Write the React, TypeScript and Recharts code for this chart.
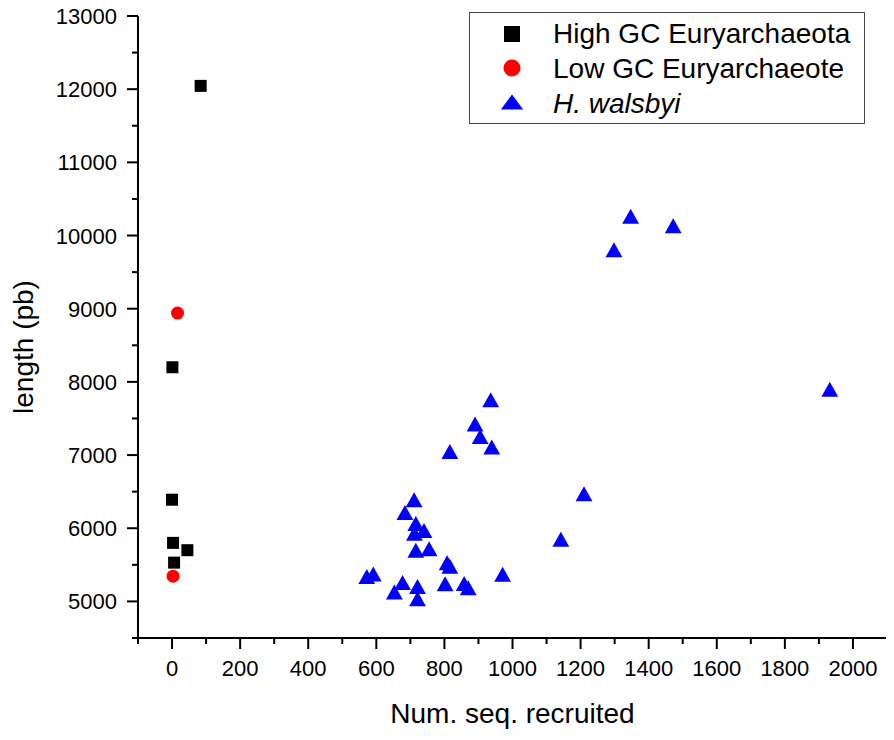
import { Legend, Scatter, ScatterChart, XAxis, YAxis } from "recharts";

const FONT = '"Liberation Sans", Arial, sans-serif';

const highGcRecruited = [84, 1, 0, 3, 45, 6];
const highGcLength = [12045, 8200, 6390, 5800, 5700, 5530];

const lowGcRecruited = [16, 3];
const lowGcLength = [8940, 5345];

const walsbyiRecruited = [
  1347, 1472, 1298, 1932, 936, 890, 905, 939, 816, 1210, 1142, 711, 684, 716,
  740, 712, 716, 755, 808, 816, 971, 572, 591, 677, 653, 721, 721, 802, 858, 870,
];
const walsbyiLength = [
  10265, 10135, 9805, 7900, 7755, 7425, 7255, 7110, 7050, 6470, 5850, 6390,
  6215, 6065, 5970, 5930, 5700, 5720, 5530, 5480, 5370, 5340, 5375, 5260, 5130,
  5205, 5035, 5240, 5245, 5185,
];

const xTicks = [
  -100, 0, 100, 200, 300, 400, 500, 600, 700, 800, 900, 1000, 1100, 1200, 1300,
  1400, 1500, 1600, 1700, 1800, 1900, 2000, 2100,
];
const xLabelled = [0, 200, 400, 600, 800, 1000, 1200, 1400, 1600, 1800, 2000];

const yTicks = [
  4500, 5000, 5500, 6000, 6500, 7000, 7500, 8000, 8500, 9000, 9500, 10000,
  10500, 11000, 11500, 12000, 12500, 13000,
];
const yLabelled = [5000, 6000, 7000, 8000, 9000, 10000, 11000, 12000, 13000];

const series = [
  { name: "High GC Euryarchaeota", color: "#000000", italic: false },
  { name: "Low GC Euryarchaeote", color: "#ff0000", italic: false },
  { name: "H. walsbyi", color: "#0000ff", italic: true },
];

const toPoints = (xs: number[], ys: number[]) =>
  xs.map((x, i) => ({ x, y: ys[i] }));

const highGc = toPoints(highGcRecruited, highGcLength);
const lowGc = toPoints(lowGcRecruited, lowGcLength);
const walsbyi = toPoints(walsbyiRecruited, walsbyiLength);

// kind: 0 square, 1 circle, 2 triangle
function marker(kind: number, cx: number, cy: number, s: number, color: string, th?: number) {
  if (kind === 0)
    return <rect x={cx - s / 2} y={cy - s / 2} width={s} height={s} fill={color} />;
  if (kind === 1) return <circle cx={cx} cy={cy} r={s / 2 + 0.5} fill={color} />;
  const w = s * 1.4;
  const h = th ?? s * 1.25;
  return (
    <polygon
      points={`${cx},${cy - h / 2} ${cx - w / 2},${cy + h / 2} ${cx + w / 2},${cy + h / 2}`}
      fill={color}
    />
  );
}

function XTick(props: any) {
  const { x, y, payload } = props;
  const major = xLabelled.includes(payload.value);
  return (
    <g>
      <line x1={x} x2={x} y1={y} y2={y + (major ? 11 : 6)} stroke="#000" strokeWidth={2} />
      {major && (
        <text x={x} y={y + 38} textAnchor="middle" fontSize={22} fontFamily={FONT} fill="#000">
          {payload.value}
        </text>
      )}
    </g>
  );
}

function YTick(props: any) {
  const { x, y, payload } = props;
  const major = yLabelled.includes(payload.value);
  return (
    <g>
      <line x1={x} x2={x - (major ? 11 : 6)} y1={y} y2={y} stroke="#000" strokeWidth={2} />
      {major && (
        <text x={x - 21} y={y + 8} textAnchor="end" fontSize={22} fontFamily={FONT} fill="#000">
          {payload.value}
        </text>
      )}
    </g>
  );
}

function LegendBox() {
  return (
    <svg width={396} height={112}>
      <rect x={0.5} y={0.5} width={395} height={111} fill="#fff" stroke="#444" />
      {series.map((s, i) => (
        <g key={s.name}>
          {marker(i, 43, 22 + i * 34, 16, s.color, 15)}
          <text
            x={84}
            y={31 + i * 35}
            fontSize={28}
            fontFamily={FONT}
            fontStyle={s.italic ? "italic" : "normal"}
            fill="#000"
          >
            {s.name}
          </text>
        </g>
      ))}
    </svg>
  );
}

export default function App() {
  return (
    <div style={{ marginTop: -8 }}>
      <ScatterChart
        width={886}
        height={732}
        margin={{ top: 16, right: 7, bottom: 0, left: 0 }}
        style={{ fontFamily: FONT }}
      >
        <XAxis
          type="number"
          dataKey="x"
          domain={[-100, 2100]}
          ticks={xTicks}
          interval={0}
          height={94}
          tickSize={0}
          tickMargin={0}
          tickLine={false}
          tick={<XTick />}
          axisLine={{ stroke: "#000", strokeWidth: 2 }}
          allowDataOverflow
          label={{
            value: "Num. seq. recruited",
            position: "insideBottom",
            offset: 9,
            fontSize: 28,
            fill: "#000",
            fontFamily: FONT,
          }}
        />
        <YAxis
          type="number"
          dataKey="y"
          domain={[4500, 13000]}
          ticks={yTicks}
          interval={0}
          width={130}
          tickSize={0}
          tickMargin={0}
          tickLine={false}
          tick={<YTick />}
          axisLine={{ stroke: "#000", strokeWidth: 2 }}
          allowDataOverflow
          label={{
            content: (p: any) => {
              const vb = p.viewBox || { x: 0, y: 16, width: 130, height: 622 };
              const cx = vb.x + 25;
              const cy = vb.y + vb.height / 2 + 20;
              return (
                <text
                  x={cx}
                  y={cy}
                  transform={`rotate(-90 ${cx} ${cy})`}
                  textAnchor="middle"
                  fontSize={28}
                  fontFamily={FONT}
                  fill="#000"
                >
                  length (pb)
                </text>
              );
            },
          }}
        />
        <Legend
          layout="vertical"
          align="center"
          verticalAlign="middle"
          wrapperStyle={{ top: 12, left: 461, width: 396, height: 112 }}
          content={() => <LegendBox />}
        />
        <Scatter
          name={series[0].name}
          data={highGc}
          fill={series[0].color}
          isAnimationActive={false}
          shape={(p: any) => marker(0, p.cx, p.cy, 12, series[0].color)}
        />
        <Scatter
          name={series[1].name}
          data={lowGc}
          fill={series[1].color}
          isAnimationActive={false}
          shape={(p: any) => marker(1, p.cx, p.cy, 12, series[1].color)}
        />
        <Scatter
          name={series[2].name}
          data={walsbyi}
          fill={series[2].color}
          isAnimationActive={false}
          shape={(p: any) => marker(2, p.cx, p.cy, 12, series[2].color)}
        />
      </ScatterChart>
    </div>
  );
}
